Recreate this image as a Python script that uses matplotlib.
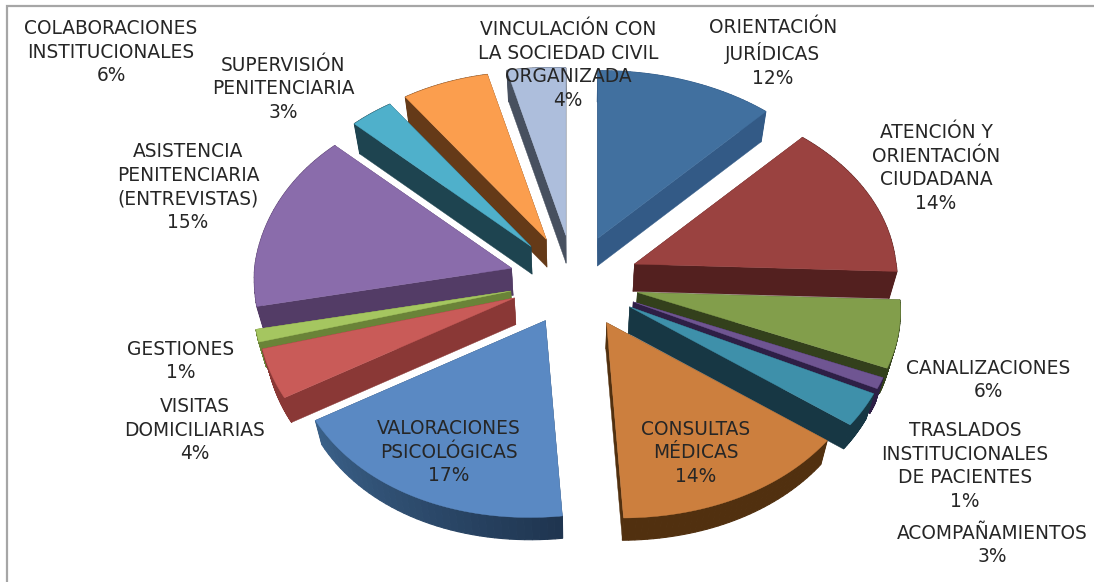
import numpy as np
import matplotlib
matplotlib.use("Agg")
import matplotlib.pyplot as plt
from matplotlib.patches import Polygon

categories = ["ORIENTACIÓN\nJURÍDICAS", "ATENCIÓN Y\nORIENTACIÓN\nCIUDADANA", "CANALIZACIONES",
              "TRASLADOS\nINSTITUCIONALES\nDE PACIENTES", "ACOMPAÑAMIENTOS", "CONSULTAS\nMÉDICAS",
              "VALORACIONES\nPSICOLÓGICAS", "VISITAS\nDOMICILIARIAS", "GESTIONES",
              "ASISTENCIA\nPENITENCIARIA\n(ENTREVISTAS)", "SUPERVISIÓN\nPENITENCIARIA",
              "COLABORACIONES\nINSTITUCIONALES", "VINCULACIÓN CON\nLA SOCIEDAD CIVIL\nORGANIZADA"]
values = [12, 14, 6, 1, 3, 14, 17, 4, 1, 15, 3, 6, 4]

top_colors = ["#41709f", "#9a4240", "#829e4b", "#6f5592", "#3e90aa", "#cc7f3e", "#5a89c3",
              "#c95b58", "#a5c660", "#8a6cab", "#4fb0cb", "#fb9e4e", "#adbedc"]
radial_colors = ["#335a86", "#53201f", "#33401c", "#2e1f46", "#173744", "#51300f", "#2c4766",
                 "#8a3836", "#6a8338", "#533c66", "#1e4450", "#653a18", "#47505f"]
outer_start = ["#335a86", "#53201f", "#33401c", "#2e1f46", "#173744", "#51300f", "#1f3550",
               "#8a3836", "#6a8338", "#533c66", "#1e4450", "#653a18", "#47505f"]
outer_end = ["#335a86", "#53201f", "#33401c", "#2e1f46", "#173744", "#51300f", "#3a6088",
             "#8a3836", "#6a8338", "#533c66", "#1e4450", "#653a18", "#47505f"]
label_xy = [(773, 53), (936, 168), (988, 380), (965, 466), (992, 545), (696, 453), (449, 452),
            (195, 430), (181, 361), (188, 187), (283, 89), (111, 52), (568, 65)]

W, H = 1094, 582
CX, CY, EX, EY = 574, 281, 65, 46          # centre and explosion
RX_L, RX_R, RY, T = 257, 261, 180, 0.088   # radii and perspective
DEPTH = 27

def apex(mid):
    c = np.cos(mid)
    return np.array([CX + EX * np.sin(mid) + 6 * c ** 2 * (c < 0), CY - EY * c])

def rim(th, mid):
    s, c = np.sin(th), np.cos(th)
    p = 1 + T * c
    rx = np.where(s > 0, RX_R, RX_L)
    shear = (10 * np.abs(c) + 7 * c ** 4) * (c < 0)
    skew = np.where(s < 0, np.where(c < 0, 0.12, 0.07) * -s, 0.0)
    return apex(mid)[:, None] + np.array([rx * s / p + shear,
                                          -RY * c / p * (1 + skew) - 2 - 2 * s])

def lower(pts):
    pts = np.atleast_2d(pts)
    return np.array([pts[0] - (pts[0] - CX) * 0.025,
                     pts[1] + DEPTH - (pts[1] - CY) * 0.02])

fig = plt.figure(figsize=(W / 100, H / 100), dpi=100, facecolor="white")
ax = fig.add_axes([0, 0, 1, 1])
ax.set_xlim(0, W)
ax.set_ylim(H, 0)
ax.axis("off")
ax.plot([7, 7, W], [H, 6, 6], color="#a6a6a6", lw=1.6, zorder=0, solid_joinstyle="miter")

edges = np.deg2rad(np.cumsum([0] + values) * 3.6)
mids = (edges[:-1] + edges[1:]) / 2
order = np.argsort([apex(m)[1] for m in mids])

z = 1
for i in order:
    a, b, m = edges[i], edges[i + 1], mids[i]
    ths = np.linspace(a, b, 40)
    top = rim(ths, m)
    ap = apex(m)
    bot = lower(top)
    apb = lower(ap[:, None])[:, 0]
    for j in (0, -1):
        poly = [ap, top[:, j], bot[:, j], apb]
        ax.add_patch(Polygon(poly, closed=True, fc=radial_colors[i], ec=radial_colors[i], lw=0.3, zorder=z))
    z += 1
    c0 = np.array(matplotlib.colors.to_rgb(outer_start[i]))
    c1 = np.array(matplotlib.colors.to_rgb(outer_end[i]))
    for k in range(len(ths) - 1):
        col = c0 + (c1 - c0) * k / (len(ths) - 2)
        poly = [top[:, k], top[:, k + 1], bot[:, k + 1], bot[:, k]]
        ax.add_patch(Polygon(poly, closed=True, fc=col, ec=col, lw=0.8, zorder=z))
    z += 1
    ax.add_patch(Polygon(np.vstack([ap, top.T]), closed=True, fc=top_colors[i], ec=top_colors[i],
                         lw=0.3, zorder=z))
    z += 1

for name, val, (x, y) in zip(categories, values, label_xy):
    ax.text(x, y, f"{name}\n{val}%", ha="center", va="center", ma="center",
            fontsize=13.4, family="DejaVu Sans", color="#262626", linespacing=1.29, zorder=z + 1)

fig.savefig("out.png", dpi=100, facecolor="white")
